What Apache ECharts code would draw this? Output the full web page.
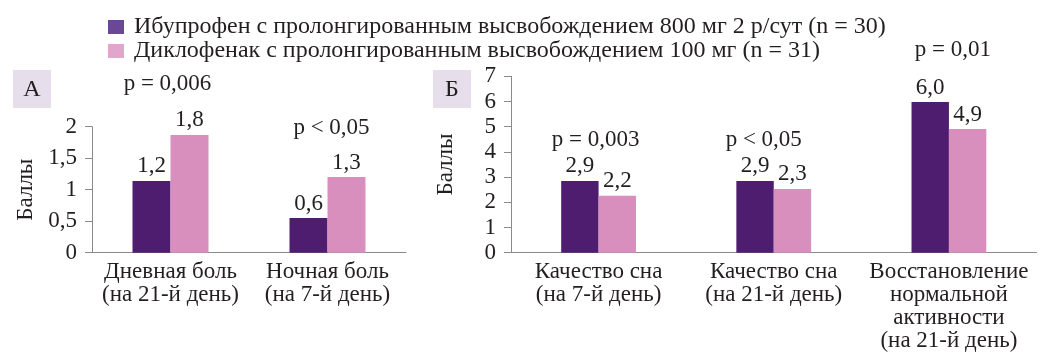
<!DOCTYPE html>
<html>
<head>
<meta charset="utf-8">
<script src="https://cdn.jsdelivr.net/npm/echarts@6/dist/echarts.min.js"></script>
<style>html,body{margin:0;padding:0;background:#fff}#c{width:1051px;height:353px}</style>
</head>
<body>
<div id="c"></div>
<script>
// ---- data ----
const seriesNames = ['Ибупрофен с пролонгированным высвобождением 800 мг 2 р/сут (n = 30)',
                     'Диклофенак с пролонгированным высвобождением 100 мг (n = 31)'];
const catsA = ['Дневная боль\n(на 21-й день)', 'Ночная боль\n(на 7-й день)'];
const ibuA = [1.14, 0.55];
const dicA = [1.87, 1.2];
const ibuALabels = ['1,2', '0,6'];
const dicALabels = ['1,8', '1,3'];
const pA = ['p = 0,006', 'p < 0,05'];
const pALevel = [2.69, 2.0];

const catsB = ['Качество сна\n(на 7-й день)', 'Качество сна\n(на 21-й день)', 'Восстановление\nнормальной\nактивности\n(на 21-й день)'];
const ibuB = [2.85, 2.85, 5.98];
const dicB = [2.26, 2.53, 4.91];
const ibuBLabels = ['2,9', '2,9', '6,0'];
const dicBLabels = ['2,2', '2,3', '4,9'];
const pB = ['p = 0,003', 'p < 0,05', 'p = 0,01'];
const pBLevel = [4.51, 4.51, 8.08];
const pBShift = [-3, -10, 4];
const pAShift = [-3, 4];

const yTicksA = ['0', '0,5', '1', '1,5', '2'];
const yTicksB = ['0', '1', '2', '3', '4', '5', '6', '7'];

// ---- style ----
const FONT = '"Liberation Serif", "DejaVu Serif", serif';
const TXT = '#231f20';
const AX = '#8a8a8a';
const C1 = '#4f1d70', C2 = '#d98fbd';
const L1 = '#6a4895', L2 = '#e0a6cc';
const FS = 23;

const chart = echarts.init(document.getElementById('c'));

function xAx(idx, cats) {
  return {
    type: 'category', gridIndex: idx, data: cats,
    axisLine: { lineStyle: { color: AX, width: 1 } },
    axisTick: { length: 8, lineStyle: { color: AX } },
    axisLabel: { interval: 0, color: TXT, fontFamily: FONT, fontSize: FS, lineHeight: 23, margin: 8 }
  };
}
function yAx(idx, max, interval, ticks, gap) {
  return {
    type: 'value', gridIndex: idx, min: 0, max: max, interval: interval,
    name: 'Баллы', nameLocation: 'middle', nameGap: gap, nameRotate: 90,
    nameTextStyle: { color: TXT, fontFamily: FONT, fontSize: FS },
    axisLine: { show: true, lineStyle: { color: AX, width: 1 } },
    axisTick: { show: true, length: 7, lineStyle: { color: AX } },
    splitLine: { show: false },
    axisLabel: { color: TXT, fontFamily: FONT, fontSize: FS, margin: 15,
      formatter: (v) => ticks[Math.round(v / interval)] }
  };
}
function bar(name, xi, data, labels, color, gapPct) {
  return {
    type: 'bar', name: name, xAxisIndex: xi, yAxisIndex: xi, data: data,
    barGap: '0%', barCategoryGap: gapPct,
    itemStyle: { color: color },
    label: { show: true, position: 'top', distance: 3, color: TXT, fontFamily: FONT, fontSize: FS,
      formatter: (p) => labels[p.dataIndex] },
    emphasis: { disabled: true }
  };
}

chart.setOption({
  animation: false,
  textStyle: { fontFamily: FONT },
  legend: {
    orient: 'vertical', left: 103, top: 10, itemWidth: 16, itemHeight: 14, itemGap: 0,
    icon: 'rect', selectedMode: false,
    textStyle: { color: TXT, fontFamily: FONT, fontSize: 24, padding: [0, 0, 0, 5] },
    data: [{ name: seriesNames[0], itemStyle: { color: L1 } }, { name: seriesNames[1], itemStyle: { color: L2 } }]
  },
  grid: [
    { left: 92, top: 126.7, width: 314, height: 126, containLabel: false },
    { left: 511, top: 76.3, width: 525.5, height: 176.4, containLabel: false }
  ],
  xAxis: [xAx(0, catsA), xAx(1, catsB)],
  yAxis: [yAx(0, 2, 0.5, yTicksA, 55), yAx(1, 7, 1, yTicksB, 54)],
  series: [
    bar(seriesNames[0], 0, ibuA, ibuALabels, C1, '51.6%'),
    bar(seriesNames[1], 0, dicA, dicALabels, C2, '51.6%'),
    bar(seriesNames[0], 1, ibuB, ibuBLabels, C1, '57.3%'),
    bar(seriesNames[1], 1, dicB, dicBLabels, C2, '57.3%')
  ]
});

const g = [];
function panelBox(x, y, letter) {
  g.push({ type: 'rect', shape: { x: x, y: y, width: 38, height: 38 }, style: { fill: '#e6dfeb' }, silent: true });
  g.push({ type: 'text', x: x + 19, y: y + 20, style: { text: letter, fill: TXT, font: '24px ' + FONT, align: 'center', verticalAlign: 'middle' }, silent: true });
}
panelBox(13, 70, 'А');
panelBox(433, 70, 'Б');
pA.forEach((t, i) => {
  const pt = chart.convertToPixel({ xAxisIndex: 0, yAxisIndex: 0 }, [i, pALevel[i]]);
  g.push({ type: 'text', x: pt[0] + pAShift[i], y: pt[1] + 1, style: { text: t, fill: TXT, font: FS + 'px ' + FONT, align: 'center', verticalAlign: 'middle' }, silent: true });
});
pB.forEach((t, i) => {
  const pt = chart.convertToPixel({ xAxisIndex: 1, yAxisIndex: 1 }, [i, pBLevel[i]]);
  g.push({ type: 'text', x: pt[0] + pBShift[i], y: pt[1] + 1, style: { text: t, fill: TXT, font: FS + 'px ' + FONT, align: 'center', verticalAlign: 'middle' }, silent: true });
});
chart.setOption({ graphic: g });
</script>
</body>
</html>
